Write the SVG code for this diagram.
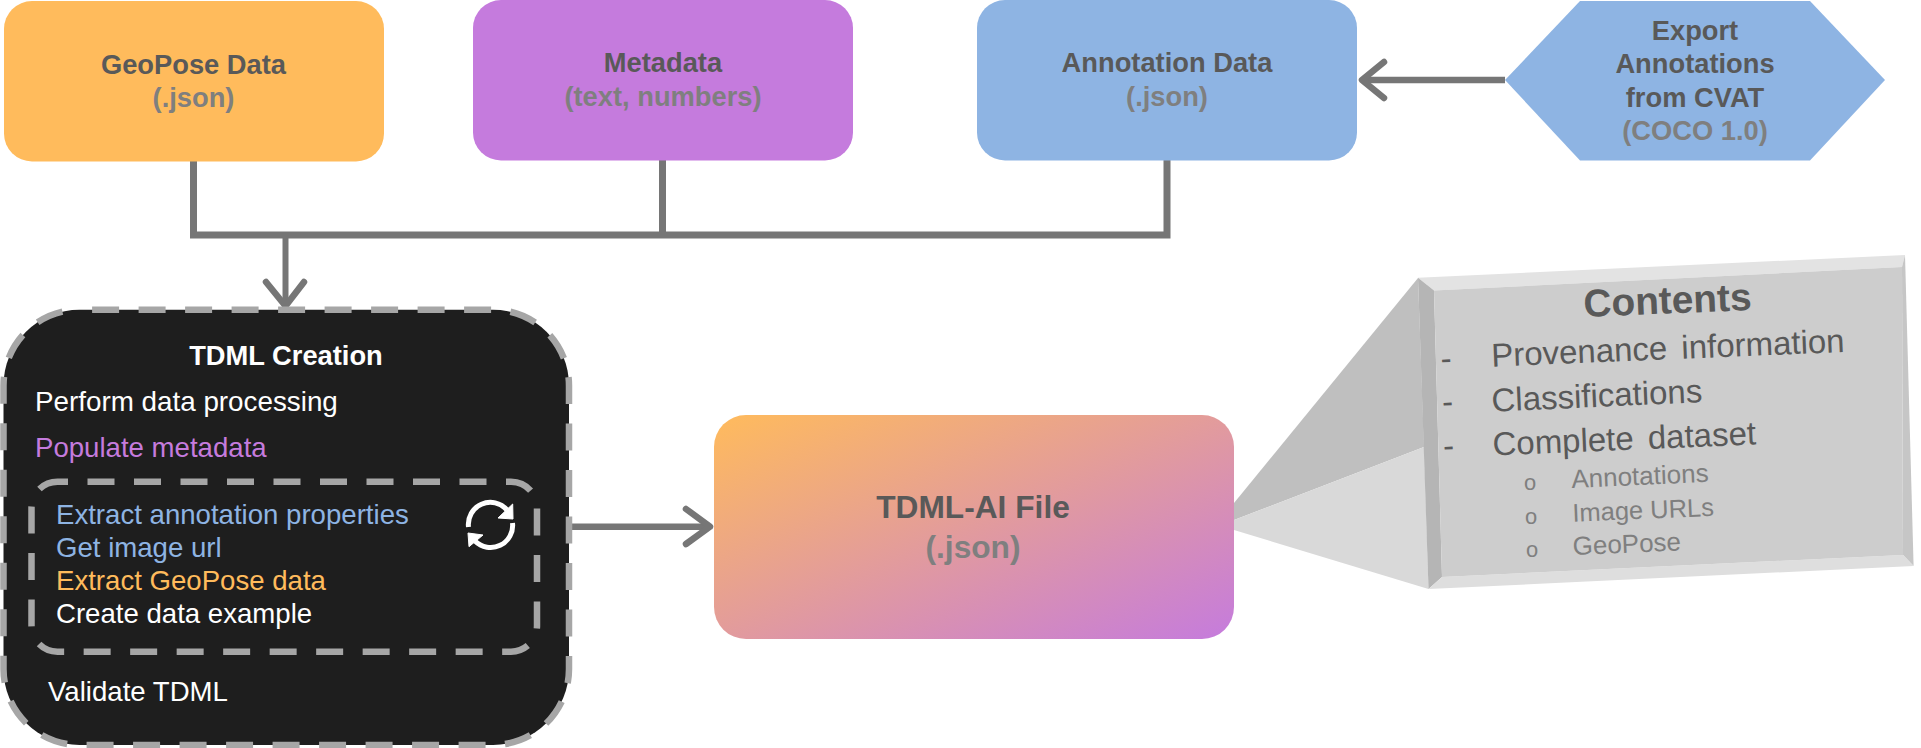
<svg xmlns="http://www.w3.org/2000/svg" width="1921" height="748" viewBox="0 0 1921 748">
<style>
text{font-family:"Liberation Sans",Arial,sans-serif}
.t{font-size:27.300px;font-weight:700;fill:#595959;text-anchor:middle}
.s{font-size:27.300px;font-weight:700;fill:#7f7f7f;text-anchor:middle}
.l{font-size:27.600px;fill:#fff}
.c{fill:none;stroke:#767676;stroke-width:7}
.h{fill:none;stroke:#767676;stroke-width:6.500;stroke-linecap:round;stroke-linejoin:round}
.m{font-size:33px;fill:#595959;word-spacing:5px}
.n{font-size:26px;fill:#7f7f7f}
.b{font-family:"Liberation Mono",monospace;font-size:22px;fill:#7f7f7f}
.d{fill:none;stroke:#a6a6a6;stroke-width:6.500;stroke-dasharray:27 19.500}
</style>
<defs>
<linearGradient id="g" x1="0" y1="0" x2="1" y2="1"><stop offset="0" stop-color="#ffbb5c"/><stop offset="1" stop-color="#c57bdd"/></linearGradient>
</defs>
<g id="connectors">
<path class="c" d="M193.500 161V235H1167V160M662.500 160V235"/>
<path class="c" d="M285.500 235V305" style="stroke-width:6"/>
<path class="h" d="M266 282L285.500 306L304 282"/>
<path class="c" d="M1505 80H1362" style="stroke-width:6.500"/>
<path class="h" d="M1384 62L1362 80L1384 98"/>
<path class="c" d="M568 526.700H708" style="stroke-width:6.500"/>
<path class="h" d="M686 509L710 526.700L686 544"/>
</g>
<g id="geopose"><rect x="4" y="1" width="380" height="160.500" rx="28" fill="#ffbb5c"/><text class="t" x="193.500" y="74">GeoPose Data</text><text class="s" x="193.500" y="107">(.json)</text></g>
<g id="metadata"><rect x="473" y="0" width="380" height="160.500" rx="28" fill="#c57bdd"/><text class="t" x="663" y="72.300">Metadata</text><text class="s" x="663" y="105.700">(text, numbers)</text></g>
<g id="annotation"><rect x="977" y="0" width="380" height="160.500" rx="28" fill="#8eb4e3"/><text class="t" x="1167" y="72.300">Annotation Data</text><text class="s" x="1167" y="105.700">(.json)</text></g>
<g id="export"><polygon points="1505,80 1580,1 1810,1 1885,80 1810,160.500 1580,160.500" fill="#8eb4e3"/><text class="t" x="1695" y="40">Export</text><text class="t" x="1695" y="73.300">Annotations</text><text class="t" x="1695" y="106.700">from CVAT</text><text class="s" x="1695" y="140">(COCO 1.0)</text></g>
<g id="tdml-creation">
<rect class="d" x="3.500" y="309.700" width="565.500" height="435.300" rx="76" style="fill:#1e1e1e" stroke-dashoffset="-12.600"/>
<text x="286" y="365" style="font-size:27.300px;font-weight:700;fill:#fff;text-anchor:middle">TDML Creation</text>
<text class="l" x="35" y="411" style="font-size:27.800px">Perform data processing</text>
<text class="l" x="35" y="456.700" style="fill:#c57bdd">Populate metadata</text>
<rect class="d" x="31.500" y="481.700" width="505.500" height="170" rx="26" stroke-dashoffset="-30"/>
<text class="l" x="56" y="524" style="fill:#8eb4e3">Extract annotation properties</text>
<text class="l" x="56" y="557" style="fill:#8eb4e3">Get image url</text>
<text class="l" x="56" y="590" style="fill:#ffbb5c">Extract GeoPose data</text>
<text class="l" x="56" y="623">Create data example</text>
<text class="l" x="48" y="700.700">Validate TDML</text>
<path d="M468.500 527A22 22 0 0 1 507 510M512.500 523A22 22 0 0 1 475 541" fill="none" stroke="#fff" stroke-width="5"/>
<path d="M512.700 504L513 519L498 518ZM468 533L469 546.700L483 535Z" fill="#fff" stroke="#fff" stroke-width="1" stroke-linejoin="round"/>
</g>
<g id="tdml-file"><rect x="714" y="415" width="520" height="224" rx="32" fill="url(#g)"/><text class="t" x="973" y="518" style="font-size:31.700px">TDML-AI File</text><text class="s" x="973" y="558" style="font-size:31.700px">(.json)</text></g>
<g id="contents">
<polygon points="1234,503 1418,278 1424,447 1234,520" fill="#bfbfbf"/>
<polygon points="1234,520 1424,447 1428.500,589 1234,530" fill="#d9d9d9"/>
<polygon points="1418,277.700 1905,255 1902,267 1434,290.500" fill="#e3e3e3"/>
<polygon points="1418,277.700 1434,290.500 1442,577 1428.500,589" fill="#b5b5b5"/>
<polygon points="1905,255 1913.600,566 1903,555 1902,267" fill="#c6c6c6"/>
<polygon points="1428.500,589 1442,577 1903,555 1913.600,566" fill="#dedede"/>
<polygon points="1434,290.500 1902,267 1903,555 1442,577" fill="#cdcdcd"/>
<text x="1584" y="317" transform="rotate(-2.400 1584 317)" style="font-size:38.800px;font-weight:700;fill:#595959">Contents</text>
<text class="m" x="1441" y="369.700" transform="rotate(-2.400 1441 369.700)">-</text>
<text class="m" x="1491.700" y="366.700" transform="rotate(-2.400 1491.700 366.700)">Provenance information</text>
<text class="m" x="1442.500" y="413" transform="rotate(-2.400 1442.500 413)">-</text>
<text class="m" x="1492" y="411.700" transform="rotate(-2.600 1492 411.700)">Classifications</text>
<text class="m" x="1443.500" y="457" transform="rotate(-2.400 1443.500 457)">-</text>
<text class="m" x="1493" y="455.500" transform="rotate(-2.400 1493 455.500)">Complete dataset</text>
<text class="b" x="1523.400" y="490.400">o</text>
<text class="n" x="1571.700" y="488" transform="rotate(-2.600 1571.700 488)">Annotations</text>
<text class="b" x="1524.400" y="523.700">o</text>
<text class="n" x="1572.700" y="521.700" transform="rotate(-2.400 1572.700 521.700)" style="font-size:25.500px">Image URLs</text>
<text class="b" x="1525.400" y="557">o</text>
<text class="n" x="1573" y="555" transform="rotate(-2.400 1573 555)">GeoPose</text>
</g>
</svg>
